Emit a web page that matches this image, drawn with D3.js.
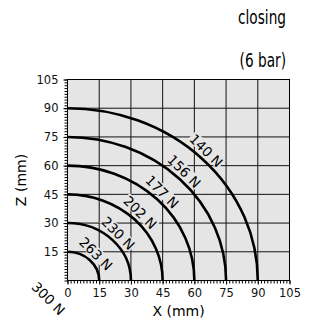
<!DOCTYPE html>
<html>
<head>
<meta charset="utf-8">
<script src="https://cdn.jsdelivr.net/npm/d3@7"></script>
<style>
  body { margin: 0; background: #fff; }
  svg { display: block; }
  .axis text { font-family: 'DejaVu Sans', sans-serif; font-size: 11.5px; fill: #111; }
  .axis path, .axis line { stroke: #000; }
</style>
</head>
<body>
<div id="chart"></div>
<script>
// closing force per radius (mm) at 6 bar
const radii = [90, 75, 60, 45, 30, 15, 0]
const forceLabels = ['140 N', '156 N', '177 N', '202 N', '230 N', '263 N', '300 N']
const xTicks = [0, 15, 30, 45, 60, 75, 90, 105]
const yTicks = [15, 30, 45, 60, 75, 90, 105]
const titleLines = ['closing', '(6 bar)']

const width = 309
const height = 323

const svg = d3
  .select('#chart')
  .append('svg')
  .attr('width', width)
  .attr('height', height)

const xPositionScale = d3.scaleLinear().domain([0, 105]).range([67.5, 289.5])
const yPositionScale = d3.scaleLinear().domain([0, 105]).range([280.5, 79.5])

// plot background
svg
  .append('rect')
  .attr('x', xPositionScale(0))
  .attr('y', yPositionScale(105))
  .attr('width', xPositionScale(105) - xPositionScale(0))
  .attr('height', yPositionScale(0) - yPositionScale(105))
  .attr('fill', '#e5e5e5')

// grid
svg
  .selectAll('.vgrid')
  .data(xTicks.slice(1))
  .enter()
  .append('line')
  .attr('class', 'vgrid')
  .attr('x1', d => xPositionScale(d))
  .attr('x2', d => xPositionScale(d))
  .attr('y1', yPositionScale(0))
  .attr('y2', yPositionScale(105))
  .attr('stroke', '#111')
  .attr('stroke-width', 1)

svg
  .selectAll('.hgrid')
  .data(yTicks)
  .enter()
  .append('line')
  .attr('class', 'hgrid')
  .attr('x1', xPositionScale(0))
  .attr('x2', xPositionScale(105))
  .attr('y1', d => yPositionScale(d))
  .attr('y2', d => yPositionScale(d))
  .attr('stroke', '#111')
  .attr('stroke-width', 1)

// force curves (quarter circles in data space)
svg
  .selectAll('.curve')
  .data(radii.filter(r => r > 0))
  .enter()
  .append('path')
  .attr('class', 'curve')
  .attr('d', r => {
    const rx = xPositionScale(r) - xPositionScale(0)
    const ry = yPositionScale(0) - yPositionScale(r)
    return `M${xPositionScale(0)},${yPositionScale(r)} A${rx},${ry} 0 0 1 ${xPositionScale(r)},${yPositionScale(0)}`
  })
  .attr('fill', 'none')
  .attr('stroke', '#000')
  .attr('stroke-width', 2.6)

// curve labels, rotated along the tangent
const labelAngle = (46 * Math.PI) / 180
const labels = svg
  .selectAll('.force-label')
  .data(radii)
  .enter()
  .append('g')
  .attr('class', 'force-label')
  .attr('transform', r => {
    const lr = r > 0 ? r + 4.4 : -13
    const cx = xPositionScale(lr * Math.cos(labelAngle))
    const cy = yPositionScale(lr * Math.sin(labelAngle))
    return `translate(${cx},${cy}) rotate(45)`
  })

labels
  .append('rect')
  .attr('x', -21)
  .attr('y', -6.5)
  .attr('width', 42)
  .attr('height', 12)
  .attr('fill', r => (r > 0 ? '#e5e5e5' : 'none'))

labels
  .append('text')
  .text((r, i) => forceLabels[i])
  .attr('text-anchor', 'middle')
  .attr('dy', '0.36em')
  .attr('font-family', 'DejaVu Sans, sans-serif')
  .attr('font-size', 13.5)
  .attr('fill', '#000')

// frame
svg
  .append('rect')
  .attr('x', xPositionScale(0))
  .attr('y', yPositionScale(105))
  .attr('width', xPositionScale(105) - xPositionScale(0))
  .attr('height', yPositionScale(0) - yPositionScale(105))
  .attr('fill', 'none')
  .attr('stroke', '#000')
  .attr('stroke-width', 1)

// minor ticks
const minorTicks = d3.range(0, 105.01, 1.5)

svg
  .append('g')
  .attr('class', 'axis')
  .attr('transform', `translate(${xPositionScale(0)},0)`)
  .call(d3.axisLeft(yPositionScale).tickValues(minorTicks).tickSize(3).tickFormat(''))
  .call(g => g.select('.domain').remove())

svg
  .append('g')
  .attr('class', 'axis')
  .attr('transform', `translate(0,${yPositionScale(0)})`)
  .call(d3.axisBottom(xPositionScale).tickValues(minorTicks).tickSize(3).tickFormat(''))
  .call(g => g.select('.domain').remove())

// main axes
const yAxis = d3.axisLeft(yPositionScale).tickValues(yTicks).tickSize(4).tickPadding(5)
svg
  .append('g')
  .attr('class', 'axis y-axis')
  .attr('transform', `translate(${xPositionScale(0)},0)`)
  .call(yAxis)
  .call(g => g.select('.domain').remove())

const xAxis = d3.axisBottom(xPositionScale).tickValues(xTicks).tickSize(4).tickPadding(4)
svg
  .append('g')
  .attr('class', 'axis x-axis')
  .attr('transform', `translate(0,${yPositionScale(0)})`)
  .call(xAxis)
  .call(g => g.select('.domain').remove())

// axis titles
svg
  .append('text')
  .text('X (mm)')
  .attr('x', (xPositionScale(0) + xPositionScale(105)) / 2)
  .attr('y', 316)
  .attr('text-anchor', 'middle')
  .attr('font-family', 'DejaVu Sans, sans-serif')
  .attr('font-size', 14)

svg
  .append('text')
  .text('Z (mm)')
  .attr('transform', `translate(25.5,${(yPositionScale(0) + yPositionScale(105)) / 2}) rotate(-90)`)
  .attr('text-anchor', 'middle')
  .attr('font-family', 'DejaVu Sans, sans-serif')
  .attr('font-size', 14)

// header, condensed
svg
  .selectAll('.title')
  .data(titleLines)
  .enter()
  .append('text')
  .attr('class', 'title')
  .text(d => d)
  .attr('transform', (d, i) => `translate(286,${24 + i * 43}) scale(0.72,1)`)
  .attr('text-anchor', 'end')
  .attr('font-family', 'DejaVu Sans, sans-serif')
  .attr('font-size', 19)
</script>
</body>
</html>
